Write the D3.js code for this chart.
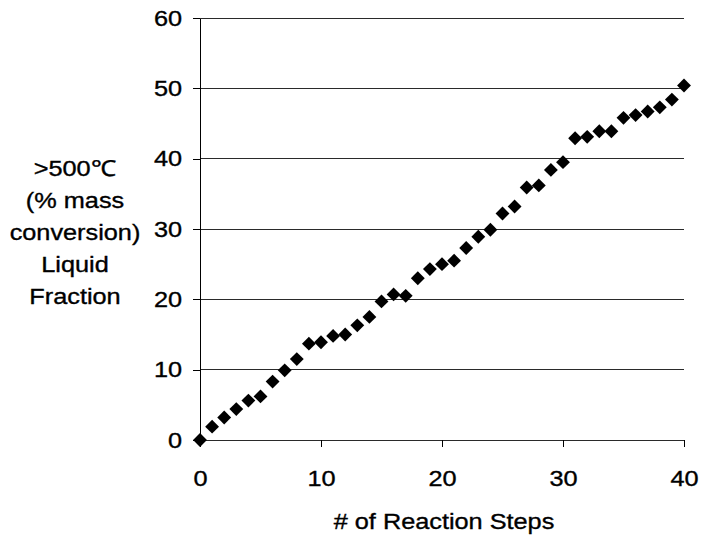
<!DOCTYPE html>
<html>
<head>
<meta charset="utf-8">
<script src="https://cdn.jsdelivr.net/npm/d3@7"></script>
<style>
  html, body { margin: 0; padding: 0; background: #fff; }
  svg { display: block; }
  text { font-family: "Liberation Sans", Arial, sans-serif; fill: #000; stroke: #000; stroke-width: 0.35px; }
</style>
</head>
<body>
<svg id="chart" width="701" height="537"></svg>
<script>
// Reaction step number and liquid fraction (>500℃, % mass conversion)
const steps = [0,1,2,3,4,5,6,7,8,9,10,11,12,13,14,15,16,17,18,19,20,
               21,22,23,24,25,26,27,28,29,30,31,32,33,34,35,36,37,38,39,40];
const fraction = [0, 1.9, 3.2, 4.4, 5.6, 6.2, 8.3, 9.9, 11.5, 13.7, 13.9,
                  14.8, 15.0, 16.3, 17.5, 19.7, 20.7, 20.5, 23.0, 24.3, 25.0,
                  25.5, 27.3, 28.9, 29.9, 32.2, 33.2, 35.9, 36.2, 38.4, 39.5,
                  42.9, 43.1, 43.9, 43.9, 45.8, 46.2, 46.7, 47.3, 48.4, 50.4];
const xTicks = [0, 10, 20, 30, 40];
const yTicks = [0, 10, 20, 30, 40, 50, 60];
const yTitleLines = [">500℃", "(% mass", "conversion)", "Liquid", "Fraction"];
const xTitle = "# of Reaction Steps";

const svg = d3.select("#chart");
const plotLeft = 200, plotRight = 684, plotTop = 18, plotBottom = 440;
const fontSize = 22;
const stretch = 1.15;   // slightly wide lettering

const x = d3.scaleLinear().domain([0, 40]).range([plotLeft, plotRight]);
const y = d3.scaleLinear().domain([0, 60]).range([plotBottom, plotTop]);

// widen a text element horizontally while keeping its anchor point
function widen(sel) {
  sel.each(function () {
    const t = d3.select(this);
    const x0 = +t.attr("x") || 0;
    t.attr("x", x0 / stretch).attr("transform", `scale(${stretch},1)`);
  });
}

// horizontal gridlines
svg.append("g")
  .selectAll("line")
  .data(yTicks)
  .join("line")
  .attr("x1", plotLeft).attr("x2", plotRight)
  .attr("y1", d => y(d)).attr("y2", d => y(d))
  .attr("stroke", "#2a2a2a")
  .attr("stroke-width", 1)
  .attr("shape-rendering", "crispEdges");

// y axis
const yAxis = svg.append("g")
  .attr("transform", `translate(${plotLeft},0)`)
  .call(d3.axisLeft(y).tickValues(yTicks).tickSize(7).tickSizeOuter(0).tickPadding(11));
yAxis.select(".domain").attr("stroke", "#000").attr("shape-rendering", "crispEdges");
yAxis.selectAll(".tick line").attr("stroke", "#000").attr("shape-rendering", "crispEdges");
yAxis.selectAll(".tick text")
  .attr("font-size", fontSize)
  .attr("font-family", "Liberation Sans, Arial, sans-serif")
  .attr("fill", "#000")
  .call(widen);

// x axis
const xAxis = svg.append("g")
  .attr("transform", `translate(0,${plotBottom})`)
  .call(d3.axisBottom(x).tickValues(xTicks).tickSize(7).tickSizeOuter(0).tickPadding(23));
xAxis.select(".domain").attr("stroke", "#2a2a2a").attr("shape-rendering", "crispEdges");
xAxis.selectAll(".tick line").attr("stroke", "#000").attr("shape-rendering", "crispEdges");
xAxis.selectAll(".tick text")
  .attr("font-size", fontSize)
  .attr("font-family", "Liberation Sans, Arial, sans-serif")
  .attr("fill", "#000")
  .call(widen);

// diamond markers
const diamond = d3.symbol().type(d3.symbolSquare).size(96);
svg.append("g")
  .selectAll("path")
  .data(steps.map((s, i) => ({ s, v: fraction[i] })))
  .join("path")
  .attr("d", diamond)
  .attr("transform", d => `translate(${x(d.s)},${y(d.v)}) rotate(45)`)
  .attr("fill", "#000");

// axis titles
svg.append("g")
  .attr("transform", `translate(${(plotLeft + plotRight) / 2 + 2},529)`)
  .append("text")
  .attr("text-anchor", "middle")
  .attr("font-size", fontSize)
  .attr("transform", `scale(${stretch},1)`)
  .text(xTitle);

svg.append("g")
  .selectAll("g")
  .data(yTitleLines)
  .join("g")
  .attr("transform", (d, i) => `translate(75,${176 + i * 32})`)
  .append("text")
  .attr("text-anchor", "middle")
  .attr("font-size", fontSize)
  .attr("transform", `scale(${stretch},1)`)
  .text(d => d);
</script>
</body>
</html>
